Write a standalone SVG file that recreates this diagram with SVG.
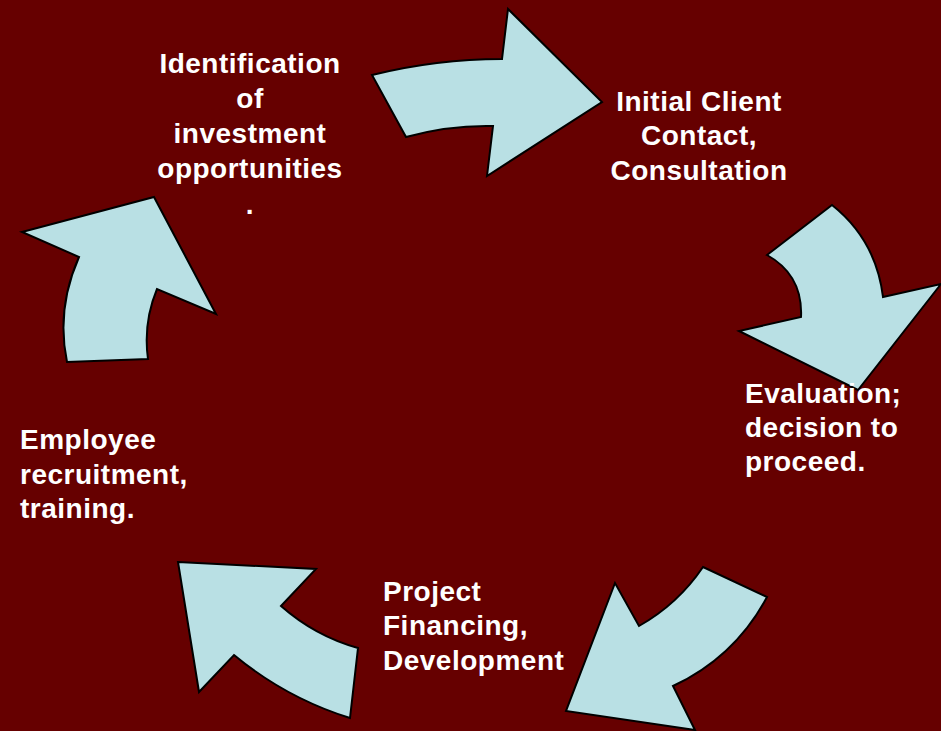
<svg xmlns="http://www.w3.org/2000/svg" width="941" height="731" viewBox="0 0 941 731">
<style>
.arrow{fill:#B9E0E4;stroke:#000;stroke-width:2;stroke-linejoin:miter}
.lbl{fill:#fff;font-family:"Liberation Sans",Arial,sans-serif;font-weight:bold;font-size:28px;letter-spacing:0.5px}
.c{text-anchor:middle}
</style>
<rect x="0" y="0" width="941" height="731" fill="#660000"/>
<g id="connectors">
<path id="arrow1" class="arrow" d="M372,75 Q437,59 502,59 L508,9 L602,102 L487,176 L493,126 Q449,125 406,137 Z"/>
<path id="arrow2" class="arrow" d="M767,255 L832,205 Q876,240 883,297 L941,284 L858,390 L739,331 L801,317 Q803,275 767,255 Z"/>
<path id="arrow3" class="arrow" d="M703,567 L767,597 Q735,657 673,686 L695,730 L566,711 L615,583 L639,626 Q678,604 703,567 Z"/>
<path id="arrow4" class="arrow" d="M178,562 L316,569 L281,606 Q315,636 358,648 L350,718 Q286,698 234,655 L199,692 Z"/>
<path id="arrow5" class="arrow" d="M22,232 L154,197 L216,314 L157,289 Q143,323 148,359 L67,362 Q56,309 79,257 Z"/>
</g>
<g id="node1">
<text class="lbl c" x="250" y="73">Identification</text>
<text class="lbl c" x="250" y="108">of</text>
<text class="lbl c" x="250" y="143">investment</text>
<text class="lbl c" x="250" y="178">opportunities</text>
<text class="lbl c" x="250" y="214">.</text>
</g>
<g id="node2">
<text class="lbl c" x="699" y="111">Initial Client</text>
<text class="lbl c" x="699" y="145">Contact,</text>
<text class="lbl c" x="699" y="180">Consultation</text>
</g>
<g id="node3">
<text class="lbl" x="745" y="403">Evaluation;</text>
<text class="lbl" x="745" y="437">decision to</text>
<text class="lbl" x="745" y="471">proceed.</text>
</g>
<g id="node4">
<text class="lbl" x="383" y="601">Project</text>
<text class="lbl" x="383" y="635">Financing,</text>
<text class="lbl" x="383" y="670">Development</text>
</g>
<g id="node5">
<text class="lbl" x="20" y="449">Employee</text>
<text class="lbl" x="20" y="484">recruitment,</text>
<text class="lbl" x="20" y="518">training.</text>
</g>
</svg>
